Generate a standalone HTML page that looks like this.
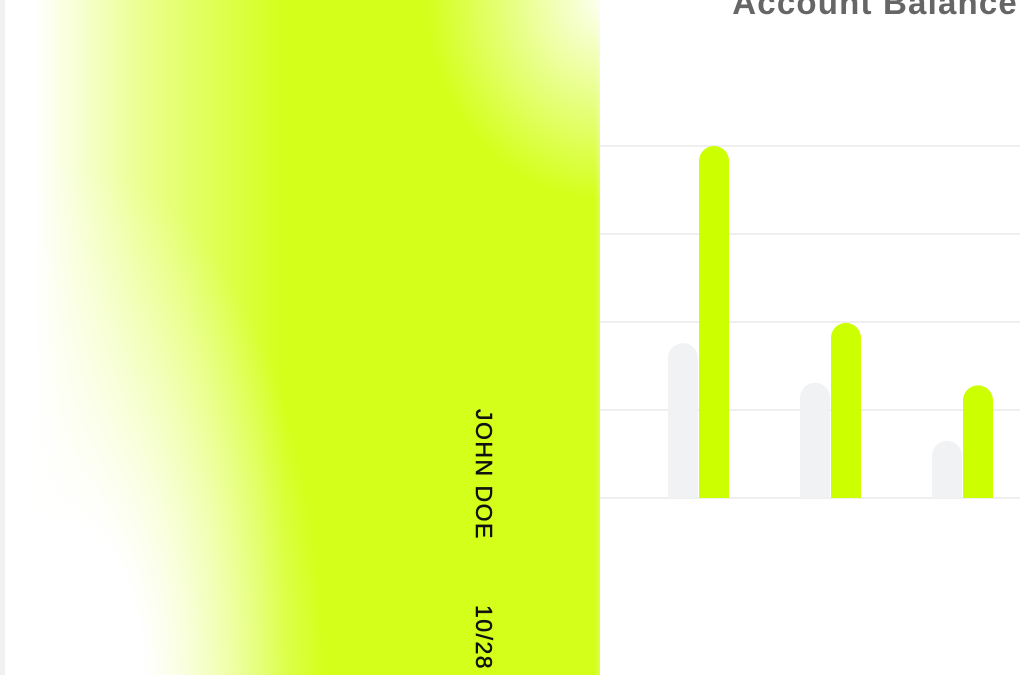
<!DOCTYPE html>
<html><head><meta charset="utf-8"><style>
html,body{margin:0;padding:0;width:1020px;height:675px;overflow:hidden;background:#fff;font-family:"Liberation Sans",sans-serif;position:relative}
#chart{position:absolute;left:0;top:0}
#card{position:absolute;left:0;top:-20px;width:600px;height:695px;border-left:5px solid #f1f1f1;box-sizing:border-box;overflow:hidden;
background:
radial-gradient(ellipse 180px 200px at 600px 20px, rgba(255,255,255,0.95), rgba(255,255,255,0) 100%),
linear-gradient(90deg, #ffffff 0px, #ffffff 30px, rgba(236,255,150,1) 130px, #d4ff1a 280px, #d4ff1a 590px, #e4ff80 600px)}
#card::after{content:"";position:absolute;left:0;top:0;right:0;bottom:0;
background:radial-gradient(ellipse 260px 520px at 60px 700px, rgba(255,255,255,1) 30%, rgba(255,255,255,0) 100%)}
.vt{position:absolute;writing-mode:vertical-rl;font-size:23px;color:#111;letter-spacing:1.5px;z-index:2;-webkit-text-stroke:0.5px #111}
#title{position:absolute;right:2px;top:-16px;font-size:33px;font-weight:bold;color:#666;letter-spacing:1.2px}
</style></head><body>
<svg id="chart" width="1020" height="675"></svg>
<div id="card">
  <div class="vt" style="left:465px;top:429px">JOHN DOE</div>
  <div class="vt" style="left:465px;top:625px">10/28</div>
</div>
<div id="title">Account Balance</div>
<script>
const categories=["G0","G1","G2","G3"];
const prevValues=[2.0,1.76,1.31,0.65];
const currValues=[2.87,4.0,1.99,1.28];
const gridTicks=[0,1,2,3,4];
const svg=document.getElementById('chart');
const NS='http://www.w3.org/2000/svg';
const y0=498,unit=88;
function yScale(v){return y0-v*unit;}
function xScale(i){return 536+i*132;}
gridTicks.forEach(t=>{
  const l=document.createElementNS(NS,'line');
  l.setAttribute('x1',500);l.setAttribute('x2',1020);
  l.setAttribute('y1',yScale(t));l.setAttribute('y2',yScale(t));
  l.setAttribute('stroke','#efefef');l.setAttribute('stroke-width',2);
  
  
  svg.appendChild(l);
});
function bar(x,v,color,name){
  const top=yScale(v),w=30,r=15;
  const p=document.createElementNS(NS,'path');
  p.setAttribute('d',`M${x},${y0} L${x},${top+r} A${r},${r} 0 0 1 ${x+w},${top+r} L${x+w},${y0} Z`);
  p.setAttribute('fill',color);
  
  
  svg.appendChild(p);
}
categories.forEach((c,i)=>{
  bar(xScale(i),prevValues[i],'#f1f2f4','bar-previous');
  bar(xScale(i)+31,currValues[i],'#ccff00','bar-current');
});
</script>
</body></html>
